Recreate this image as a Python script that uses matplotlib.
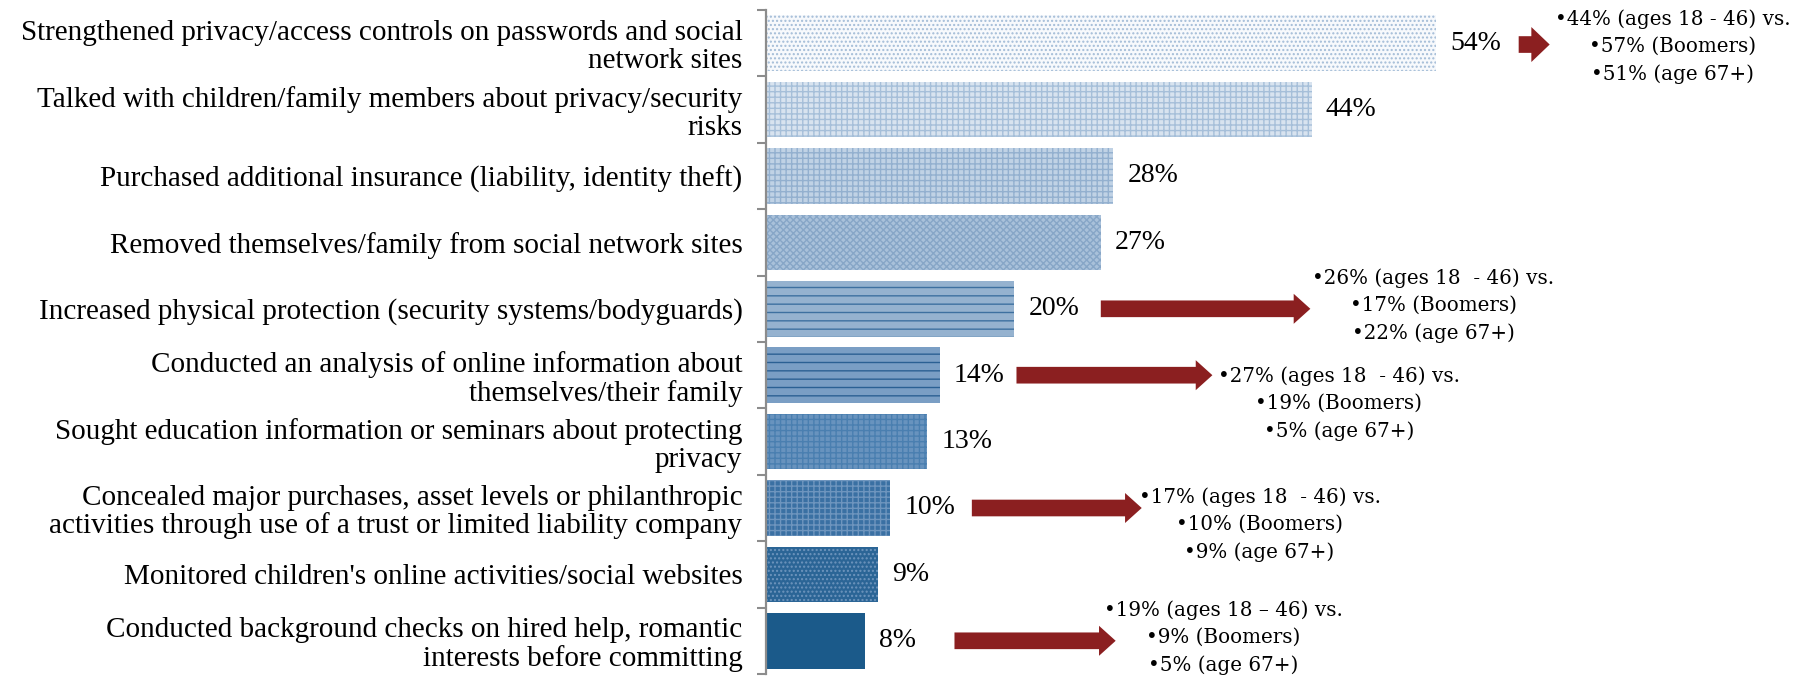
import matplotlib
matplotlib.use("Agg")
import matplotlib.pyplot as plt

# survey results, top to bottom
actions = [
    "Strengthened privacy/access controls on passwords and social\nnetwork sites",
    "Talked with children/family members about privacy/security\nrisks",
    "Purchased additional insurance (liability, identity theft)",
    "Removed themselves/family from social network sites",
    "Increased physical protection (security systems/bodyguards)",
    "Conducted an analysis of online information about\nthemselves/their family",
    "Sought education information or seminars about protecting\nprivacy",
    "Concealed major purchases, asset levels or philanthropic\nactivities through use of a trust or limited liability company",
    "Monitored children's online activities/social websites",
    "Conducted background checks on hired help, romantic\ninterests before committing",
]
pct = [54, 44, 28, 27, 20, 14, 13, 10, 9, 8]

# age breakdowns shown next to some bars (index of bar -> lines)
notes = {
    0: ["\u202244% (ages 18 - 46) vs.", "\u202257% (Boomers)", "\u202251% (age 67+)"],
    4: ["\u202226% (ages 18  - 46) vs.", "\u202217% (Boomers)", "\u202222% (age 67+)"],
    5: ["\u202227% (ages 18  - 46) vs.", "\u202219% (Boomers)", "\u20225% (age 67+)"],
    7: ["\u202217% (ages 18  - 46) vs.", "\u202210% (Boomers)", "\u20229% (age 67+)"],
    9: ["\u202219% (ages 18 \u2013 46) vs.", "\u20229% (Boomers)", "\u20225% (age 67+)"],
}

# bar look: face colour, hatch, hatch colour
styles = [
    ("#f7f9fc", "....",  "#a3bcd7"),
    ("#d8e3ef", "+++",   "#a6bfd9"),
    ("#c0d2e5", "+++",   "#93b0cf"),
    ("#a9c1da", "xxxxx", "#87a6c7"),
    ("#95b2cf", "--",    "#3d70a0"),
    ("#7a9ec4", "--",    "#2b6093"),
    ("#6893be", "+++",   "#4a7fb0"),
    ("#3a70a3", "+++",   "#6e95be"),
    ("#2b6596", "....",  "#6e95bd"),
    ("#1b5a8a", "",      "#1b5a8a"),
]

# arrow (start, end) in % units and note block placement (x, y)
arrows = {0: (60.7, 63.2), 4: (27.0, 43.9), 5: (20.2, 36.0), 7: (16.6, 30.3), 9: (15.2, 28.2)}
note_pos = {0: (73.1, 0.05), 4: (53.8, 3.95), 5: (46.2, 5.43), 7: (39.8, 7.25), 9: (36.9, 8.95)}

plt.rcParams["font.family"] = ["Liberation Serif", "DejaVu Serif"]
plt.rcParams["hatch.linewidth"] = 1.0

fig = plt.figure(figsize=(18.17, 6.78), dpi=100)
ax = fig.add_axes([766 / 1817, 1 - 674 / 678, 1 - 766 / 1817, 664 / 678])

y = list(range(len(pct)))
for i, v in enumerate(pct):
    fc, h, hc = styles[i]
    ax.barh(i, v, height=0.84, color=fc, edgecolor=hc, hatch=h, linewidth=0)
    ax.text(v + 1.15, i, f"{v}%", va="center", ha="left", fontsize=20)

for i, (x0, x1) in arrows.items():
    yy = i + (0.02 if i == 0 else 0)
    style = ("simple,head_length=1.1,head_width=2.1,tail_width=1.0" if i == 0
             else "simple,head_length=1.0,head_width=1.8,tail_width=1.0")
    ax.annotate("", xy=(x1, yy), xytext=(x0, yy),
                arrowprops=dict(arrowstyle=style, mutation_scale=12, color="#8b1f20",
                                shrinkA=0, shrinkB=0, lw=0))

for i, lines in notes.items():
    nx, ny = note_pos[i]
    ax.text(nx, ny, "\n".join(lines), ha="center", va="center", multialignment="center",
            fontsize=14.3, family="DejaVu Serif", linespacing=1.54)

ax.set_xlim(0, (1817 - 766) / 12.4)
ax.set_ylim(len(pct) - 0.5, -0.5)
ax.set_yticks(y)
ax.set_yticklabels(actions, fontsize=21, linespacing=1.09)
ax.tick_params(axis="y", which="major", length=0, pad=17)
ax.set_yticks([k - 0.5 for k in range(len(pct) + 1)], minor=True)
ax.tick_params(axis="y", which="minor", length=6.5, width=1.5, color="#8c8c8c")
ax.set_xticks([])
for s in ["top", "right", "bottom"]:
    ax.spines[s].set_visible(False)
ax.spines["left"].set_color("#8c8c8c")
ax.spines["left"].set_linewidth(1.6)

fig.savefig("out.png", dpi=100)
